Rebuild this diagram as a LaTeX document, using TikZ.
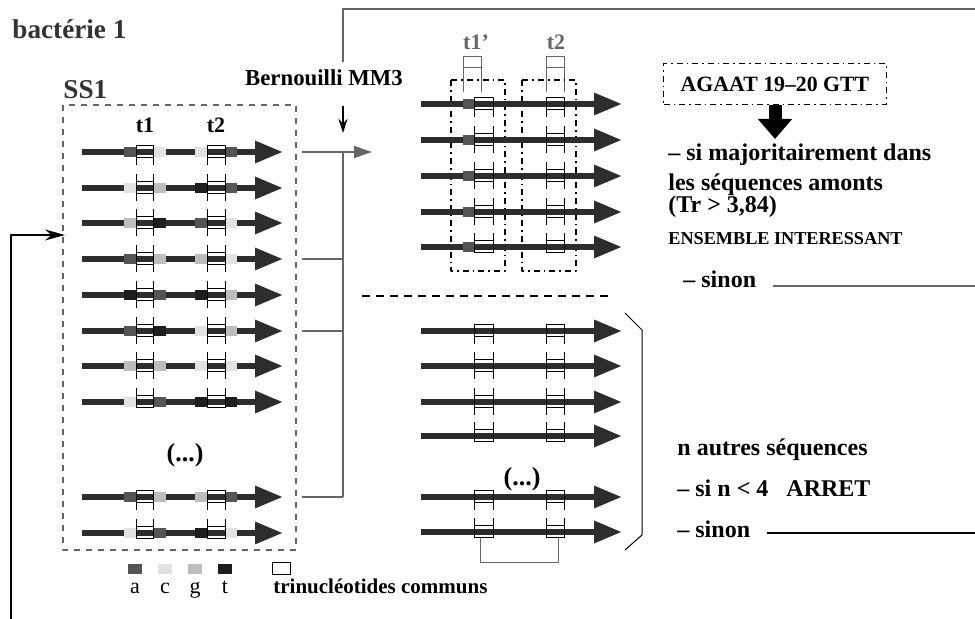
\documentclass[tikz,border=0pt]{standalone}
\usepackage{fontspec}
\setmainfont{Liberation Serif}
\usetikzlibrary{calc}
\usetikzlibrary{arrows.meta}

\definecolor{nta}{HTML}{555555}
\definecolor{ntc}{HTML}{E2E2E2}
\definecolor{ntg}{HTML}{BDBDBD}
\definecolor{ntt}{HTML}{1E1E1E}
\definecolor{shaft}{HTML}{2D2D2D}
\definecolor{linkgray}{HTML}{666666}
\definecolor{titlegray}{HTML}{333333}

\tikzset{
  seq/.style = {line width = 3pt, color = shaft, line cap = butt,
    -{Triangle[length = 14pt, width = 10.5pt]}},
  tri/.style = {line width = .5pt, black},
  link/.style = {line width = 1pt, linkgray},
  ddbox/.style = {line width = .8pt, dash dot},
  big/.style = {font = \bfseries\fontsize{13.6}{16}\selectfont, inner sep = 0,
    titlegray},
  lab/.style = {font = \bfseries\fontsize{12}{14}\selectfont, inner sep = 0},
  tlab/.style = {font = \bfseries\fontsize{11}{13}\selectfont, inner sep = 0},
  leg/.style = {font = \fontsize{11}{13}\selectfont, inner sep = 0}
}

\begin{document}
\begin{tikzpicture}[x = .5pt, y = -.5pt, line join = round]
  \useasboundingbox (0, 0) rectangle (975, 619);

  \node[big, anchor = base west] (bact) at (12, 39) {bactérie 1};
  \node[big, anchor = base west] (ss1) at (63, 99) {SS1};
  \draw[linkgray, line width = .6pt, dash pattern = on 3pt off 3pt]
  (63, 105) rectangle (296, 550);

  \node[tlab, anchor = base] (t1) at (145, 133) {t1};
  \node[tlab, anchor = base] (t2) at (216, 133) {t2};

  \foreach \y/\up/\dn/\ca/\cb/\cc/\cd [count = \i] in {
    152/6/13.5/a/c/c/a, 188/13.5/13.5/c/g/t/a, 223/13.5/13.5/g/t/a/c,
    259/13.5/13.5/a/g/g/c, 295/13.5/13.5/t/a/t/g, 331/13.5/13.5/a/t/c/g,
    366/13.5/13.5/g/g/c/c, 402/13.5/6/c/a/t/t, 497/6/13.5/a/g/g/a,
    533/13.5/6/c/a/t/c}
  {
    \draw[seq] (82, \y) -- (283, \y);
    \fill[fill = nt\ca] (124, \y - 5) rectangle (136, \y + 5);
    \fill[fill = nt\cb] (153, \y - 5) rectangle (166, \y + 5);
    \fill[fill = nt\cc] (195, \y - 5) rectangle (207, \y + 5);
    \fill[fill = nt\cd] (225, \y - 5) rectangle (237, \y + 5);
    \draw[tri] (136, \y - 6) rectangle (153, \y + 6)
    (207, \y - 6) rectangle (225, \y + 6);
    \draw[tri] (136, \y - \up) -- (136, \y + \dn) (153, \y - \up) -- (153, \y + \dn)
    (207, \y - \up) -- (207, \y + \dn) (225, \y - \up) -- (225, \y + \dn);
    \coordinate (s\i) at (302, \y);
  }
  \node[lab, font = \bfseries\fontsize{13}{15}\selectfont] (dots1) at (185, 455)
  {(...)};

  \coordinate (bt) at (343, 152);
  \coordinate (bb) at (343, 497);
  \coordinate (m0) at (372, 152);
  \draw[link] (s1) -- (bt) -- (bb);
  \draw[link] (s4) -- (s4 -| bt);
  \draw[link] (s6) -- (s6 -| bt);
  \draw[link] (s9) -- (bb);
  \draw[link, -{Triangle[length = 9pt, width = 6pt]}] (bt) -- (m0);

  \node[lab, font = \bfseries\fontsize{11.4}{13}\selectfont, anchor = base]
  (bern) at (324, 86) {Bernouilli MM3};
  \coordinate (bn1) at (343, 106);
  \coordinate (bn2) at (343, 133);
  \draw[line width = .6pt, -{Stealth[length = 7pt, width = 4.5pt]}] (bn1) -- (bn2);

  \coordinate (tl) at (343, 62);
  \coordinate (tr) at (975, 9);
  \draw[link] (tl) |- (tr);

  \coordinate (fb0) at (11, 619);
  \coordinate (fb1) at (65, 235);
  \draw[line width = .75pt, -{Stealth[length = 10pt, width = 5.5pt]}] (fb0) |- (fb1);

  \node[tlab, linkgray, anchor = base] (t1p) at (476, 50) {t1'};
  \node[tlab, linkgray, anchor = base] (t2p) at (556, 50) {t2};
  \draw[tri, linkgray] (463, 92) -- (463, 57) -- (481, 57) -- (481, 92)
  (463, 68) -- (481, 68);
  \draw[tri, linkgray] (546, 92) -- (546, 57) -- (564, 57) -- (564, 92)
  (546, 68) -- (564, 68);
  \draw[ddbox] (451, 80) rectangle (505, 271);
  \draw[ddbox] (522, 80) rectangle (576, 271);

  \foreach \y/\up/\dn in {104/6/13.5, 140/13.5/13.5, 176/13.5/13.5,
    212/13.5/13.5, 247/13.5/6}
  {
    \draw[seq] (421, \y) -- (622, \y);
    \fill[fill = nta] (463, \y - 5) rectangle (474, \y + 5);
    \draw[tri] (474, \y - 6) rectangle (493, \y + 6)
    (546, \y - 6) rectangle (564, \y + 6);
    \draw[tri] (474, \y - \up) -- (474, \y + \dn) (493, \y - \up) -- (493, \y + \dn)
    (546, \y - \up) -- (546, \y + \dn) (564, \y - \up) -- (564, \y + \dn);
  }

  \coordinate (sp1) at (362, 296);
  \coordinate (sp2) at (608, 296);
  \draw[line width = .75pt, dash pattern = on 4pt off 3pt] (sp1) -- (sp2);

  \foreach \y/\up/\dn in {331/6/13.5, 366/13.5/13.5, 402/13.5/13.5,
    436/13.5/6, 497/6/13.5, 532/13.5/6}
  {
    \draw[seq] (421, \y) -- (622, \y);
    \draw[tri] (474, \y - 6) rectangle (493, \y + 6)
    (546, \y - 6) rectangle (564, \y + 6);
    \draw[tri] (474, \y - \up) -- (474, \y + \dn) (493, \y - \up) -- (493, \y + \dn)
    (546, \y - \up) -- (546, \y + \dn) (564, \y - \up) -- (564, \y + \dn);
  }
  \node[lab, font = \bfseries\fontsize{13}{15}\selectfont] (dots2) at (522, 479)
  {(...)};
  \coordinate (lb1) at (480, 538);
  \coordinate (lb2) at (558, 538);
  \draw[tri, linkgray] (lb1) -- ++(0, 25) -| (lb2);

  \coordinate (br1) at (625, 313);
  \coordinate (br2) at (625, 550);
  \draw[line width = .5pt] (br1) -- ++(17, 17) -- ($(br2) + (17, -15)$) -- (br2);

  \node[draw, ddbox, minimum width = 111.5pt, minimum height = 20.5pt,
  inner sep = 0, font = \bfseries\fontsize{10.9}{13}\selectfont] (motif)
  at (775, 84) {AGAAT 19--20 GTT};
  \coordinate (mtip) at (775, 139);
  \draw[line width = 6.5pt, line cap = butt,
  -{Triangle[length = 10pt, width = 16.5pt]}] (motif.south) -- (mtip);

  \node[lab, anchor = base west] (maj1) at (668, 161) {-- si majoritairement dans};
  \node[lab, anchor = base west] (maj2) at (668, 191) {les séquences amonts};
  \node[lab, anchor = base west] (maj3) at (668, 213) {(Tr > 3,84)};
  \node[lab, font = \bfseries\fontsize{9.1}{11}\selectfont, anchor = base west]
  (ens) at (668, 245) {ENSEMBLE INTERESSANT};
  \node[lab, anchor = base west] (sinon1) at (683, 288) {-- sinon};
  \coordinate (r1) at (975, 286);
  \draw[link] ([xshift = 8pt] sinon1.east |- r1) -- (r1);

  \node[lab, anchor = base west] (naut) at (677, 456) {n autres séquences};
  \node[lab, anchor = base west] (arret) at (677, 497)
  {-- si n < 4\hspace{9pt}ARRET};
  \node[lab, anchor = base west] (sinon2) at (677, 538) {-- sinon};
  \coordinate (r2) at (975, 533);
  \draw[line width = .75pt] ([xshift = 8pt] sinon2.east |- r2) -- (r2);

  \foreach \x/\c in {135/a, 165/c, 195/g, 225/t}
  {
    \fill[fill = nt\c] (\x - 7, 564) rectangle (\x + 7, 574);
    \node[leg, anchor = base] (leg\c) at (\x, 594) {\c};
  }
  \draw[tri] (272, 563) rectangle (290, 575);
  \node[lab, font = \bfseries\fontsize{10.5}{12}\selectfont, anchor = base west]
  (tric) at (273, 594) {trinucléotides communs};
\end{tikzpicture}
\end{document}
